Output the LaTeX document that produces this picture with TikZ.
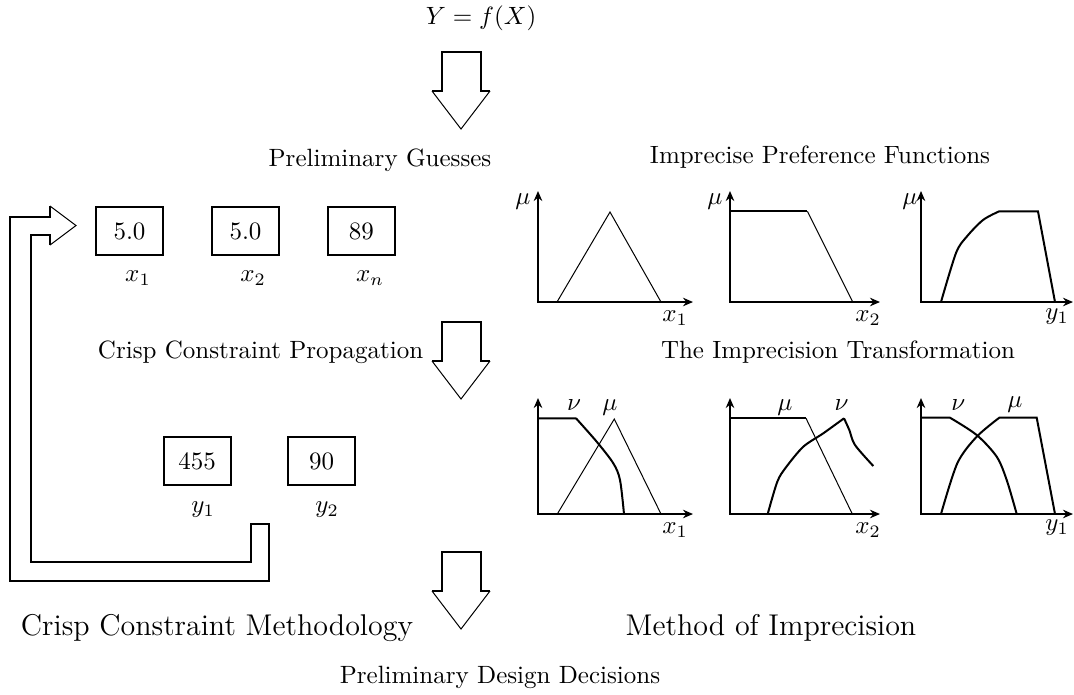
\documentclass[tikz,border=0pt]{standalone}
\usepackage{amsmath}
\usepackage{tikz}
\usetikzlibrary{arrows.meta}

\begin{document}
\begin{tikzpicture}[
    x=0.4pt, y=-0.4pt,
    >={Stealth[length=4pt, width=3.4pt]},
    numbox/.style={draw, thick, minimum width=26.8pt, minimum height=19.2pt, inner sep=0pt},
    stage/.style={font=\fontsize{10}{12}\selectfont},
    method/.style={font=\fontsize{12}{14}\selectfont},
    axis/.style={thick, <->},
    fuzzy/.style={thick},
    crisp/.style={thin},
]
    \useasboundingbox (0,0) rectangle (1074,694);

    \node (model) at (481, 18) {$Y = f(X)$};

    % hollow block arrows down the middle
    \foreach \ytop in {52, 322, 552} {
        \draw[thick] (432, \ytop+39) -- (442, \ytop+39) -- (442, \ytop) -- (481, \ytop) -- (481, \ytop+39) -- (490, \ytop+39);
        \draw[crisp] (490, \ytop+39) -- (461, \ytop+77) -- (432, \ytop+39);
    }

    \node[stage] (guess) at (380, 160) {Preliminary Guesses};
    \node[numbox] (bx1) at (129.5, 231) {5.0};
    \node[numbox] (bx2) at (245.5, 231) {5.0};
    \node[numbox] (bxn) at (361.3, 231) {89};
    \node (lx1) at (138, 278) {$x_1$};
    \node (lx2) at (253, 278) {$x_2$};
    \node (lxn) at (370, 278) {$x_n$};

    \node[stage, anchor=base east] (prop) at (432, 358) {Crisp Constraint Propagation};
    \node[numbox] (by1) at (197, 461) {455};
    \node[numbox] (by2) at (321.5, 461) {90};
    \node (ly1) at (203, 510) {$y_1$};
    \node (ly2) at (327, 510) {$y_2$};

    % feedback arrow back to the guesses
    \draw[thick] (50,245) -- (50,235) -- (30.5,235) -- (30.5,561.7) -- (250.7,561.7) -- (250.7,524)
        -- (269.3,524) -- (269.3,580.7) -- (10,580.7) -- (10,216.5) -- (50,216.5) -- (50,206);
    \draw[crisp] (50,206) -- (76,225.5) -- (50,245);

    \node[method] (crisp) at (217, 628) {Crisp Constraint Methodology};
    \node[method] (impr) at (771, 628) {Method of Imprecision};
    \node[stage] (decide) at (500, 677) {Preliminary Design Decisions};

    \node[stage] (pref) at (820, 157) {Imprecise Preference Functions};
    \node[stage] (trans) at (838, 352) {The Imprecision Transformation};

    % axes
    \foreach \ox/\tx in {538/693, 730/880, 921/1073}
        \foreach \oy/\ty in {302/191, 514/398}
            \draw[axis] (\ox, \ty) |- (\tx, \oy);

    \node (mu1) at (523, 202) {$\mu$};
    \node (mu2) at (715, 202) {$\mu$};
    \node (mu3) at (910, 202) {$\mu$};
    \node (ax1) at (675, 318) {$x_1$};
    \node (ax2) at (868, 318) {$x_2$};
    \node (ay1) at (1057, 317) {$y_1$};
    \node (bx1ax) at (675, 530) {$x_1$};
    \node (bx2ax) at (868, 530) {$x_2$};
    \node (by1ax) at (1057, 528) {$y_1$};

    % preference functions
    \draw[crisp] (557, 302) -- (610, 212) -- (661, 302);
    \draw[fuzzy] (730, 211.4) -- (807.4, 211.4);
    \draw[crisp] (807.4, 211.4) -- (852.7, 302);
    \draw[fuzzy] plot[smooth] coordinates {(941, 302) (956, 253) (966.7, 236.7) (983, 220) (999, 211.4)}
        -- (1038, 211.4) -- (1055, 302);

    % transformed functions
    \draw[fuzzy] (538, 418.3) -- (576, 418.3) plot[smooth] coordinates {(576, 418.3) (596.7, 441.7) (613.3, 463.3) (620, 480) (624, 514)};
    \draw[crisp] (557.3, 514) -- (614.3, 419) -- (661, 514);
    \node (nu1) at (574, 405) {$\nu$};
    \node (mu4) at (610, 408) {$\mu$};

    \draw[fuzzy] (730, 418.3) -- (806, 418.3);
    \draw[crisp] (806, 418.3) -- (852.3, 514);
    \draw[fuzzy] plot[smooth] coordinates {(767.7, 514) (777.3, 481.7) (786, 467.3) (803.3, 446.7) (823.3, 433.3) (844, 418.3)}
        plot[smooth] coordinates {(844, 418.3) (849.3, 430) (855, 445) (873.3, 466)};
    \node (mu5) at (785, 408) {$\mu$};
    \node (nu2) at (841.7, 405) {$\nu$};

    \draw[fuzzy] (921, 417.7) -- (950, 417.7) plot[smooth] coordinates {(950, 417.7) (976.7, 435) (996.7, 456.7) (1006.7, 480) (1016.7, 514)};
    \draw[fuzzy] plot[smooth] coordinates {(941, 514) (957.3, 463.3) (976.7, 436.7) (999.3, 417.7)}
        -- (1036.7, 417.7) -- (1055, 514);
    \node (nu3) at (958.3, 405) {$\nu$};
    \node (mu6) at (1015, 405) {$\mu$};
\end{tikzpicture}
\end{document}
